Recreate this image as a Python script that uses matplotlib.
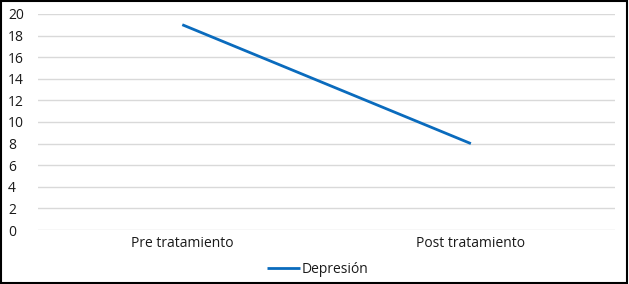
import matplotlib.pyplot as plt
from matplotlib.patches import Rectangle

# datos
categorias = ["Pre tratamiento", "Post tratamiento"]
depresion = [19, 8]
y_ticks = list(range(0, 21, 2))

plt.rcParams['font.family'] = ['Open Sans', 'DejaVu Sans']

fig = plt.figure(figsize=(6.29, 2.84), dpi=100)
ax = fig.add_axes([0.0604, 0.19, 0.9176, 0.761])

x = [0.5, 1.5]
ax.plot(x, depresion, color='#0a6bbd', linewidth=2.0, label='Depresión',
        solid_capstyle='butt')

ax.set_xlim(0, 2)
ax.set_ylim(0, 20)
ax.set_yticks(y_ticks)
ax.set_xticks(x)
ax.set_xticklabels(categorias)
ax.tick_params(axis='both', length=0, labelsize=10, labelcolor='#1a1a1a')
ax.tick_params(axis='y', pad=21.5)
ax.tick_params(axis='x', pad=4)
for lbl in ax.get_yticklabels():
    lbl.set_horizontalalignment('left')
ax.grid(axis='y', color='#d9d9d9', linewidth=1.0)
ax.set_axisbelow(True)
for s in ax.spines.values():
    s.set_visible(False)

leg = fig.legend(loc='center', bbox_to_anchor=(0.505, 0.05), frameon=False,
                 fontsize=10, handlelength=2.4, handletextpad=0.15)
for t in leg.get_texts():
    t.set_color('#1a1a1a')

# borde del gráfico
fig.patches.append(Rectangle((0.002, 0.004), 0.995, 0.992, transform=fig.transFigure,
                             fill=False, edgecolor='black', linewidth=1.5))

fig.savefig('out.png', dpi=100)
